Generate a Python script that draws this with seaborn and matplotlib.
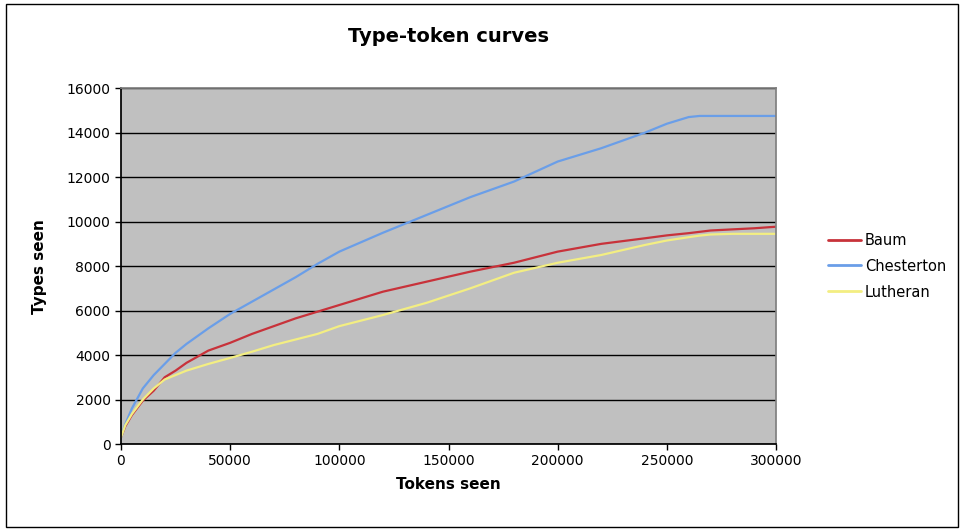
import matplotlib
matplotlib.use("Agg")
import matplotlib.pyplot as plt
import pandas as pd
import seaborn as sns

# tokens seen (x) and types seen per text
tokens = [0, 2000, 5000, 10000, 15000, 20000, 25000, 30000, 40000, 50000,
          60000, 70000, 80000, 90000, 100000, 120000, 140000, 160000, 180000,
          200000, 220000, 240000, 250000, 260000, 265000, 270000, 280000,
          290000, 300000]
baum = [300, 800, 1300, 1950, 2400, 3000, 3300, 3650, 4200, 4550,
        4950, 5300, 5650, 5950, 6250, 6850, 7300, 7750, 8150,
        8650, 9000, 9250, 9380, 9480, 9540, 9600, 9650,
        9700, 9770]
chesterton = [300, 900, 1600, 2500, 3100, 3600, 4100, 4500, 5200, 5850,
              6400, 6950, 7500, 8100, 8650, 9500, 10300, 11100, 11800,
              12700, 13300, 14000, 14400, 14700, 14750, 14750, 14750,
              14750, 14750]
lutheran = [300, 850, 1350, 2000, 2500, 2900, 3100, 3300, 3600, 3870,
            4150, 4450, 4700, 4950, 5300, 5800, 6350, 7000, 7700,
            8150, 8500, 8950, 9150, 9300, 9370, 9420, 9450,
            9450, 9450]
names = ["Baum", "Chesterton", "Lutheran"]
colors = ["#c8323a", "#6a9ee8", "#f3ee82"]

df = pd.DataFrame({"Tokens seen": tokens * 3,
                   "Types seen": baum + chesterton + lutheran,
                   "Text": sum([[n] * len(tokens) for n in names], [])})

sns.set_theme(style="white")
plt.rcParams["font.family"] = ["DejaVu Sans"]
plt.rcParams["text.color"] = "black"
plt.rcParams["axes.labelcolor"] = "black"
plt.rcParams["xtick.color"] = "black"
plt.rcParams["ytick.color"] = "black"

fig = plt.figure(figsize=(9.64, 5.31), dpi=100)
ax = fig.add_axes([0.1255, 0.1638, 0.6795, 0.6702])
ax.set_facecolor("#c0c0c0")

sns.lineplot(data=df, x="Tokens seen", y="Types seen", hue="Text",
             palette=dict(zip(names, colors)), linewidth=1.6, ax=ax)

ax.set_xlim(0, 300000)
ax.set_ylim(0, 16000)
ax.set_xticks(range(0, 300001, 50000))
ax.set_yticks(range(0, 16001, 2000))
ax.yaxis.grid(True, color="black", linewidth=1)
ax.set_axisbelow(True)
ax.tick_params(axis="both", direction="out", length=4, width=1,
               labelsize=10, left=True, bottom=True, color="black")
for s in ["top", "right"]:
    ax.spines[s].set_color("#808080")
for s in ["left", "bottom"]:
    ax.spines[s].set_color("black")

ax.set_xlabel("Tokens seen", fontsize=11, fontweight="bold", labelpad=6)
ax.set_ylabel("Types seen", fontsize=11, fontweight="bold", labelpad=14)
ax.set_title("Type-token curves", fontsize=14, fontweight="bold", pad=33)

leg = ax.legend(loc="center left", bbox_to_anchor=(1.06, 0.5), frameon=False,
                fontsize=10.5, handlelength=2.2, handletextpad=0.3,
                labelspacing=0.75)
for line in leg.get_lines():
    line.set_linewidth(2)

fig.patches.append(plt.Rectangle((0.006, 0.008), 0.988, 0.984,
                                 transform=fig.transFigure, fill=False,
                                 edgecolor="black", linewidth=1))

fig.savefig("out.png", dpi=100)
